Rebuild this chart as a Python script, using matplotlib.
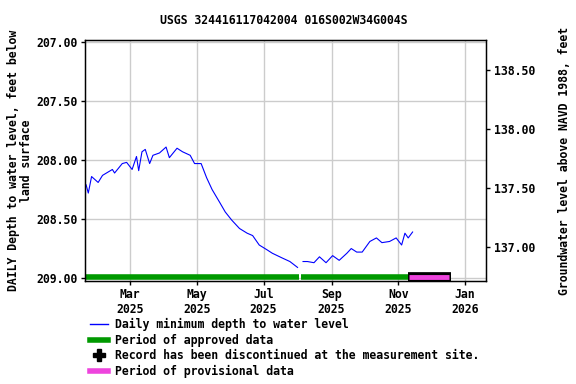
import numpy as np
import pandas as pd
import matplotlib
matplotlib.use("Agg")
from matplotlib import pyplot as plt
from matplotlib.lines import Line2D

title = "USGS 324416117042004 016S002W34G004S"

# daily minimum depth to water level, feet below land surface
dates = ["2025-01-20", "2025-01-22", "2025-01-25", "2025-01-31", "2025-02-04",
         "2025-02-13", "2025-02-15", "2025-02-22", "2025-02-26", "2025-03-03",
         "2025-03-07", "2025-03-09", "2025-03-12", "2025-03-15", "2025-03-19",
         "2025-03-22", "2025-03-28", "2025-04-03", "2025-04-06", "2025-04-13",
         "2025-04-18", "2025-04-25", "2025-04-29", "2025-05-05", "2025-05-10",
         "2025-05-15", "2025-05-22", "2025-05-27", "2025-06-02", "2025-06-09",
         "2025-06-16", "2025-06-21", "2025-06-27", "2025-07-04", "2025-07-09",
         "2025-07-18", "2025-07-25", "2025-08-01", "2025-08-03", "2025-08-06",
         "2025-08-10", "2025-08-16", "2025-08-21", "2025-08-27", "2025-09-02",
         "2025-09-08", "2025-09-15", "2025-09-19", "2025-09-24", "2025-09-29",
         "2025-10-06", "2025-10-12", "2025-10-17", "2025-10-24", "2025-10-30",
         "2025-11-04", "2025-11-07", "2025-11-10", "2025-11-14"]
depth = [208.21, 208.28, 208.14, 208.19, 208.13,
         208.08, 208.11, 208.03, 208.02, 208.08,
         207.97, 208.09, 207.93, 207.91, 208.03,
         207.96, 207.94, 207.89, 207.98, 207.90,
         207.93, 207.96, 208.03, 208.03, 208.15,
         208.25, 208.36, 208.44, 208.51, 208.58,
         208.62, 208.64, 208.72, 208.76, 208.79,
         208.83, 208.86, 208.91, np.nan, 208.86,
         208.86, 208.87, 208.82, 208.87, 208.81,
         208.85, 208.79, 208.75, 208.78, 208.78,
         208.69, 208.66, 208.70, 208.69, 208.66,
         208.72, 208.62, 208.66, 208.61]

# approved / provisional periods
approved = [("2025-01-19", "2025-08-02"), ("2025-08-04", "2025-11-10")]
provisional = ("2025-11-11", "2025-12-17")
bar_depth = 208.99

datum_offset = 345.74  # elevation = offset - depth

xlim = ("2025-01-19", "2026-01-20")
ylim = (209.025, 206.983)
left_ticks = [207.0, 207.5, 208.0, 208.5, 209.0]
right_ticks = [137.0, 137.5, 138.0, 138.5]
tick_months = ["2025-03-01", "2025-05-01", "2025-07-01", "2025-09-01",
               "2025-11-01", "2026-01-01"]

plt.rcParams['font.family'] = ['DejaVu Sans Mono']
plt.rcParams['font.weight'] = 'bold'
fs = 8.3

fig = plt.figure(figsize=(5.76, 3.84), dpi=100)
ax = fig.add_axes([85 / 576, 1 - 281 / 384, 401 / 576, 241 / 384])

d = pd.to_datetime(dates)
ax.plot(d, depth, color='#0000ff', lw=0.8)

for a, b in approved:
    ax.plot(pd.to_datetime([a, b]), [bar_depth, bar_depth], color='#009900', lw=4,
            solid_capstyle='butt')
p0, p1 = pd.to_datetime(provisional)
ax.plot([p0 - pd.Timedelta(days=1), p1 + pd.Timedelta(days=2)], [bar_depth, bar_depth],
        color='black', lw=7, solid_capstyle='butt')
ax.plot([p0, p1], [bar_depth, bar_depth], color='#ee44dd', lw=3.5, solid_capstyle='butt')

ax.set_xlim(pd.to_datetime(xlim[0]), pd.to_datetime(xlim[1]))
ax.set_ylim(*ylim)
ax.set_yticks(left_ticks)
ax.set_yticklabels([f"{v:.2f}" for v in left_ticks], fontsize=fs, fontweight='bold')
tm = pd.to_datetime(tick_months)
ax.set_xticks(tm)
ax.set_xticklabels([t.strftime("%b\n%Y") for t in tm], fontsize=fs, fontweight='bold')
ax.grid(True, color='#cccccc', lw=1)
ax.set_axisbelow(True)
ax.tick_params(length=3, width=1, pad=2)
for s in ax.spines.values():
    s.set_linewidth(1)
ax.set_ylabel("DAILY Depth to water level, feet below\nland surface", fontsize=fs,
              fontweight='bold', labelpad=3, linespacing=1.0)

ax2 = ax.twinx()
ax2.set_ylim(datum_offset - ylim[0], datum_offset - ylim[1])
ax2.set_yticks(right_ticks)
ax2.set_yticklabels([f"{v:.2f}" for v in right_ticks], fontsize=fs, fontweight='bold')
ax2.tick_params(length=3, width=1, pad=3)
ax2.set_ylabel("Groundwater level above NAVD 1988, feet", fontsize=fs,
               fontweight='bold', labelpad=16)

fig.text(0.493, 1 - 20 / 384, title, ha='center', va='center', fontsize=fs,
         fontweight='bold')

handles = [
    Line2D([], [], color='#0000ff', lw=1),
    Line2D([], [], color='#009900', lw=4),
    Line2D([], [], color='black', marker='P', ms=8, lw=0),
    Line2D([], [], color='#ee44dd', lw=4),
]
labels = ["Daily minimum depth to water level",
          "Period of approved data",
          "Record has been discontinued at the measurement site.",
          "Period of provisional data"]
fig.legend(handles, labels, loc='upper left', bbox_to_anchor=(90 / 576, 1 - 318 / 384),
           frameon=False, handlelength=1.55, handletextpad=0.6,
           labelspacing=0.22, borderaxespad=0, borderpad=0,
           prop={'family': 'DejaVu Sans Mono', 'weight': 'bold', 'size': fs})

fig.savefig("out.png", dpi=100)
